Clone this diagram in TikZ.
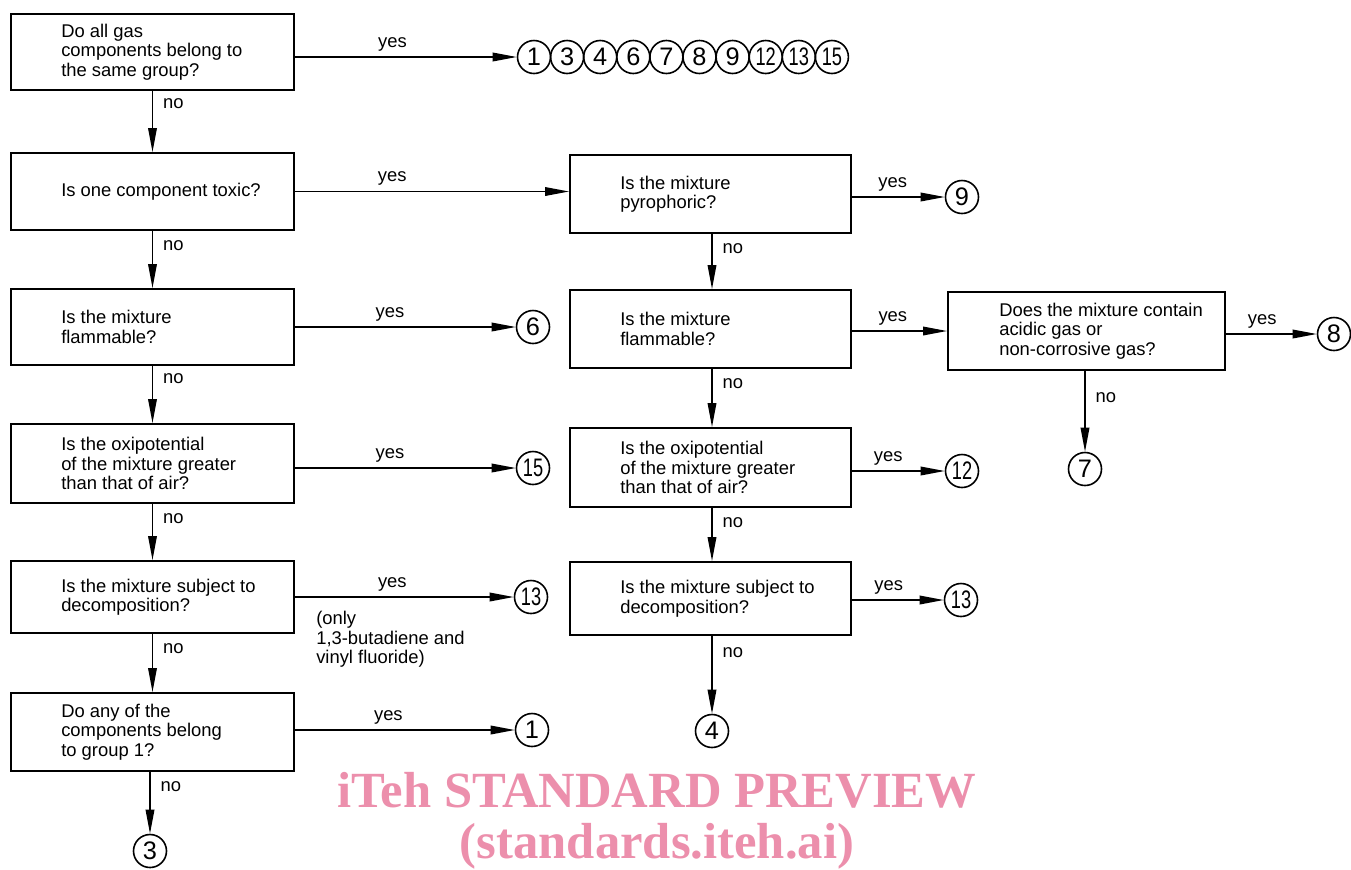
\documentclass[tikz,border=0pt]{standalone}
\usepackage{fontspec}
\usepackage{graphicx}
\setmainfont{Liberation Sans}
\newfontfamily\wmfont{Liberation Serif}
\usetikzlibrary{arrows.meta}
\definecolor{wmpink}{RGB}{236,143,172}
\begin{document}
\begin{tikzpicture}[x=0.75pt,y=-0.75pt,
  box/.style={draw,line width=1.5pt,minimum width=212.25pt,inner sep=0pt},
  txt/.style={align=left,inner sep=0pt,anchor=west,font=\fontsize{13.8pt}{14.6pt}\selectfont},
  lab/.style={inner sep=0pt,font=\fontsize{13.8pt}{14.6pt}\selectfont},
  yeslab/.style={lab,anchor=base,yshift=7.5pt},
  nolab/.style={lab,anchor=west,xshift=7.5pt},
  circ/.style={draw,circle,line width=1.2pt,minimum size=24.75pt,inner sep=0pt,font=\fontsize{19pt}{19pt}\selectfont},
  arr/.style={line width=1pt,-{Triangle[length=18pt,width=6.5pt]}},
  wmtext/.style={text=wmpink,inner sep=0pt,font=\wmfont\bfseries\fontsize{38pt}{38pt}\selectfont}
]
\useasboundingbox (0,0) rectangle (1351,869);

% left column boxes
\node[box,minimum height=57pt]    (b1) at (152.5,52) {};
\node[box,minimum height=57.75pt] (b2) at (152.5,191.5) {};
\node[box,minimum height=57pt]    (b3) at (152.5,327) {};
\node[box,minimum height=59.25pt] (b4) at (152.5,463.5) {};
\node[box,minimum height=54pt]    (b5) at (152.5,597) {};
\node[box,minimum height=58.5pt]  (b6) at (152.5,732) {};

\node[txt] (t1) at ([xshift=38.25pt]b1.west) {Do all gas\\components belong to\\the same group?};
\node[txt] (t2) at ([xshift=38.25pt]b2.west) {Is one component toxic?};
\node[txt] (t3) at ([xshift=38.25pt]b3.west) {Is the mixture\\flammable?};
\node[txt] (t4) at ([xshift=38.25pt]b4.west) {Is the oxipotential\\of the mixture greater\\than that of air?};
\node[txt] (t5) at ([xshift=38.25pt]b5.west) {Is the mixture subject to\\decomposition?};
\node[txt] (t6) at ([xshift=38.25pt]b6.west) {Do any of the\\components belong\\to group 1?};

% middle column boxes
\node[box,minimum width=210.75pt,minimum height=58.5pt]  (m1) at (710.5,194) {};
\node[box,minimum width=210.75pt,minimum height=58.5pt]  (m2) at (710.5,329) {};
\node[box,minimum width=210.75pt,minimum height=59.25pt] (m3) at (710.5,467.5) {};
\node[box,minimum width=210.75pt,minimum height=54.75pt] (m4) at (710.5,598.5) {};

\node[txt] (tm1) at ([xshift=38.25pt]m1.west) {Is the mixture\\pyrophoric?};
\node[txt] (tm2) at ([xshift=38.25pt]m2.west) {Is the mixture\\flammable?};
\node[txt] (tm3) at ([xshift=38.25pt]m3.west) {Is the oxipotential\\of the mixture greater\\than that of air?};
\node[txt] (tm4) at ([xshift=38.25pt]m4.west) {Is the mixture subject to\\decomposition?};

% right box
\node[box,minimum width=207.75pt,minimum height=58.5pt] (r1) at (1086.5,331) {};
\node[txt] (tr1) at ([xshift=39pt]r1.west) {Does the mixture contain\\acidic gas or\\non-corrosive gas?};

% top row of circles
\node[circ] (k1)  at (534.0,57) {1};
\node[circ] (k3)  at (567.1,57) {3};
\node[circ] (k4)  at (600.2,57) {4};
\node[circ] (k6)  at (633.3,57) {6};
\node[circ] (k7)  at (666.4,57) {7};
\node[circ] (k8)  at (699.5,57) {8};
\node[circ] (k9)  at (732.6,57) {9};
\node[circ] (k12) at (765.7,57) {\scalebox{0.72}[1]{12}};
\node[circ] (k13) at (798.8,57) {\scalebox{0.72}[1]{13}};
\node[circ] (k15) at (831.9,57) {\scalebox{0.72}[1]{15}};

% other circles
\node[circ] (c6)   at (533,327) {6};
\node[circ] (c15)  at (533,468) {\scalebox{0.72}[1]{15}};
\node[circ] (c13a) at (531,597) {\scalebox{0.72}[1]{13}};
\node[circ] (c1)   at (532,730) {1};
\node[circ] (c3)   at (150,851) {3};
\node[circ] (c9)   at (962,197) {9};
\node[circ] (c12)  at (962,471) {\scalebox{0.72}[1]{12}};
\node[circ] (c13b) at (961,600) {\scalebox{0.72}[1]{13}};
\node[circ] (c4)   at (712,731) {4};
\node[circ] (c8)   at (1334,334) {8};
\node[circ] (c7)   at (1085,469) {7};

% yes arrows, left column
\draw[arr] (b1.east |- k1) -- node[yeslab,pos=0.44]{yes} (k1);
\draw[arr] (b2.east) -- node[yeslab,pos=0.355]{yes} (m1.west |- b2.east);
\draw[arr] (b3.east |- c6) -- node[yeslab,pos=0.43]{yes} (c6);
\draw[arr] (b4.east |- c15) -- node[yeslab,pos=0.43]{yes} (c15);
\draw[arr] (b5.east |- c13a) -- node[yeslab,pos=0.445]{yes} (c13a);
\draw[arr] (b6.east |- c1) -- node[yeslab,pos=0.425]{yes} (c1);

\node[txt,anchor=north west] (note) at (316,611) {(only\\1,3-butadiene and\\vinyl fluoride)};

% yes arrows, middle and right
\draw[arr] (m1.east |- c9) -- node[yeslab,pos=0.44]{yes} (c9);
\draw[arr] (m2.east |- r1.west) -- node[yeslab,pos=0.43]{yes} (r1.west);
\draw[arr] (m3.east |- c12) -- node[yeslab,pos=0.39]{yes} (c12);
\draw[arr] (m4.east |- c13b) -- node[yeslab,pos=0.4]{yes} (c13b);
\draw[arr] (r1.east |- c8) -- node[yeslab,pos=0.4]{yes} (c8);

% no arrows
\draw[arr] (b1.south) -- node[nolab,pos=0.21]{no} (b2.north);
\draw[arr] (b2.south) -- node[nolab,pos=0.25]{no} (b3.north);
\draw[arr] (b3.south) -- node[nolab,pos=0.22]{no} (b4.north);
\draw[arr] (b4.south) -- node[nolab,pos=0.26]{no} (b5.north);
\draw[arr] (b5.south) -- node[nolab,pos=0.25]{no} (b6.north);
\draw[arr] (b6.south -| c3) -- node[nolab,pos=0.23]{no} (c3.north);

\draw[arr] (m1.south -| c4) -- node[nolab,pos=0.26]{no} (m2.north -| c4);
\draw[arr] (m2.south -| c4) -- node[nolab,pos=0.25]{no} (m3.north -| c4);
\draw[arr] (m3.south -| c4) -- node[nolab,pos=0.27]{no} (m4.north -| c4);
\draw[arr] (m4.south -| c4) -- node[nolab,pos=0.21]{no} (c4.north);
\draw[arr] (r1.south -| c7) -- node[nolab,pos=0.33]{no} (c7.north);

% watermark
\node[wmtext] (wm1) at (657,790) {iTeh STANDARD PREVIEW};
\node[wmtext] (wm2) at (657,846) {(standards.iteh.ai)};
\end{tikzpicture}
\end{document}
